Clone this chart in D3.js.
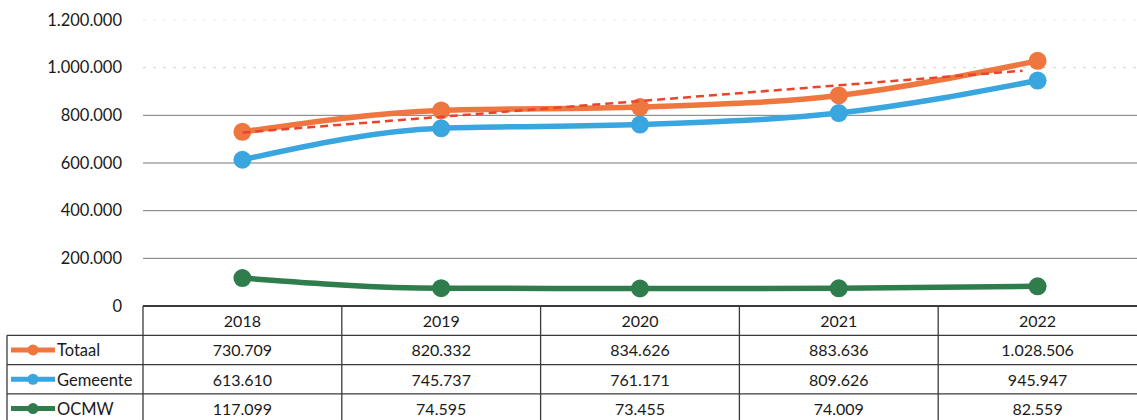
<!DOCTYPE html>
<html>
<head>
<meta charset="utf-8">
<script src="https://cdn.jsdelivr.net/npm/d3@7"></script>
<style>
  body { margin: 0; background: #fff; }
  svg { display: block; font-family: Lato, "Open Sans", sans-serif; }
</style>
</head>
<body>
<div id="chart"></div>
<script>
var years = ["2018", "2019", "2020", "2021", "2022"];
var totaal = [730709, 820332, 834626, 883636, 1028506];
var gemeente = [613610, 745737, 761171, 809626, 945947];
var ocmw = [117099, 74595, 73455, 74009, 82559];
var seriesNames = ["Totaal", "Gemeente", "OCMW"];
var seriesColors = ["#f0763f", "#3aa6df", "#2f7d4c"];
var yTicks = [0, 200000, 400000, 600000, 800000, 1000000, 1200000];

var width = 1137, height = 420;
var plotLeft = 143, plotRight = 1137, plotTop = 20, plotBottom = 306;
var rowH = 29.3;

var nl = d3.formatLocale({decimal: ",", thousands: ".", grouping: [3], currency: ["€", ""]});
var fmt = nl.format(",d");

var svg = d3.select("#chart").append("svg")
	.attr("width", width)
	.attr("height", height);

var x = d3.scaleBand().domain(years).range([plotLeft, plotRight]);
var y = d3.scaleLinear().domain([0, 1200000]).range([plotBottom, plotTop]);

// gridlines (top ones are very faint in the scan)
svg.append("g").selectAll("line")
	.data(yTicks.filter(function(d) { return d > 0; }))
	.enter().append("line")
	.attr("x1", plotLeft).attr("x2", plotRight)
	.attr("y1", function(d) { return y(d); })
	.attr("y2", function(d) { return y(d); })
	.attr("stroke", function(d) { return d >= 1000000 ? "#d0d0d0" : "#7a7a7a"; })
	.attr("stroke-width", 1)
	.attr("stroke-dasharray", function(d) { return d >= 1000000 ? "3,7" : null; })
	.attr("opacity", function(d) { return d > 1000000 ? 0.4 : 1; });

// y labels
svg.append("g").selectAll("text")
	.data(yTicks)
	.enter().append("text")
	.attr("x", 122)
	.attr("y", function(d) { return y(d) + 5.5; })
	.attr("text-anchor", "end")
	.attr("font-size", 16.5)
	.attr("fill", "#1a1a1a")
	.text(function(d) { return fmt(d); });

var allSeries = [totaal, gemeente, ocmw];
var line = d3.line()
	.x(function(d, i) { return x(years[i]) + x.bandwidth() / 2; })
	.y(function(d) { return y(d); })
	.curve(d3.curveMonotoneX);

// trendline for Totaal (linear least squares)
var n = totaal.length;
var mx = (n - 1) / 2, my = d3.mean(totaal);
var sxy = d3.sum(totaal, function(d, i) { return (i - mx) * (d - my); });
var sxx = d3.sum(totaal, function(d, i) { return (i - mx) * (i - mx); });
var slope = sxy / sxx, icpt = my - slope * mx;
var trend = [icpt, icpt + slope * (n - 1)];

// draw series back to front
[2, 1, 0].forEach(function(s) {
	var g = svg.append("g");
	g.append("path")
		.attr("d", line(allSeries[s]))
		.attr("fill", "none")
		.attr("stroke", seriesColors[s])
		.attr("stroke-width", 5.5)
		.attr("stroke-linejoin", "round");
	g.selectAll("circle")
		.data(allSeries[s])
		.enter().append("circle")
		.attr("cx", function(d, i) { return x(years[i]) + x.bandwidth() / 2; })
		.attr("cy", function(d) { return y(d); })
		.attr("r", 9)
		.attr("fill", seriesColors[s]);
	if (s === 0) {
		svg.append("line")
			.attr("x1", x(years[0]) + x.bandwidth() / 2)
			.attr("x2", x(years[n - 1]) + x.bandwidth() / 2 - 15)
			.attr("y1", y(trend[0]))
			.attr("y2", y(trend[1]) + 1)
			.attr("stroke", "#e8452c")
			.attr("stroke-width", 2.5)
			.attr("stroke-dasharray", "8,5");
	}
});

// data table
var tbl = svg.append("g").attr("stroke", "#3a3a3a").attr("stroke-width", 1.3);
tbl.append("line").attr("x1", plotLeft).attr("x2", plotRight).attr("y1", plotBottom).attr("y2", plotBottom).attr("stroke-width", 2);
[1, 2, 3].forEach(function(r) {
	tbl.append("line")
		.attr("x1", 7).attr("x2", plotRight)
		.attr("y1", plotBottom + r * rowH).attr("y2", plotBottom + r * rowH);
});
tbl.append("line").attr("x1", 7).attr("x2", 7).attr("y1", plotBottom + rowH).attr("y2", height);
years.forEach(function(yr) {
	tbl.append("line")
		.attr("x1", x(yr)).attr("x2", x(yr))
		.attr("y1", plotBottom).attr("y2", height);
});

svg.append("g").selectAll("text")
	.data(years)
	.enter().append("text")
	.attr("x", function(d) { return x(d) + x.bandwidth() / 2; })
	.attr("y", plotBottom + 21)
	.attr("text-anchor", "middle")
	.attr("font-size", 16)
	.attr("fill", "#1a1a1a")
	.text(function(d) { return d; });

allSeries.forEach(function(vals, s) {
	var ry = plotBottom + (s + 1) * rowH;
	var g = svg.append("g");
	g.append("line")
		.attr("x1", 11).attr("x2", 55)
		.attr("y1", ry + rowH / 2).attr("y2", ry + rowH / 2)
		.attr("stroke", seriesColors[s]).attr("stroke-width", 5);
	g.append("circle")
		.attr("cx", 33).attr("cy", ry + rowH / 2).attr("r", 5.5)
		.attr("fill", seriesColors[s]);
	g.append("text")
		.attr("x", 57).attr("y", ry + 21)
		.attr("font-size", 16.5).attr("fill", "#1a1a1a")
		.text(seriesNames[s]);
	g.selectAll("text.v")
		.data(vals)
		.enter().append("text")
		.attr("class", "v")
		.attr("x", function(d, i) { return x(years[i]) + x.bandwidth() / 2; })
		.attr("y", ry + 21)
		.attr("text-anchor", "middle")
		.attr("font-size", 16).attr("fill", "#1a1a1a")
		.text(function(d) { return fmt(d); });
});
</script>
</body>
</html>
